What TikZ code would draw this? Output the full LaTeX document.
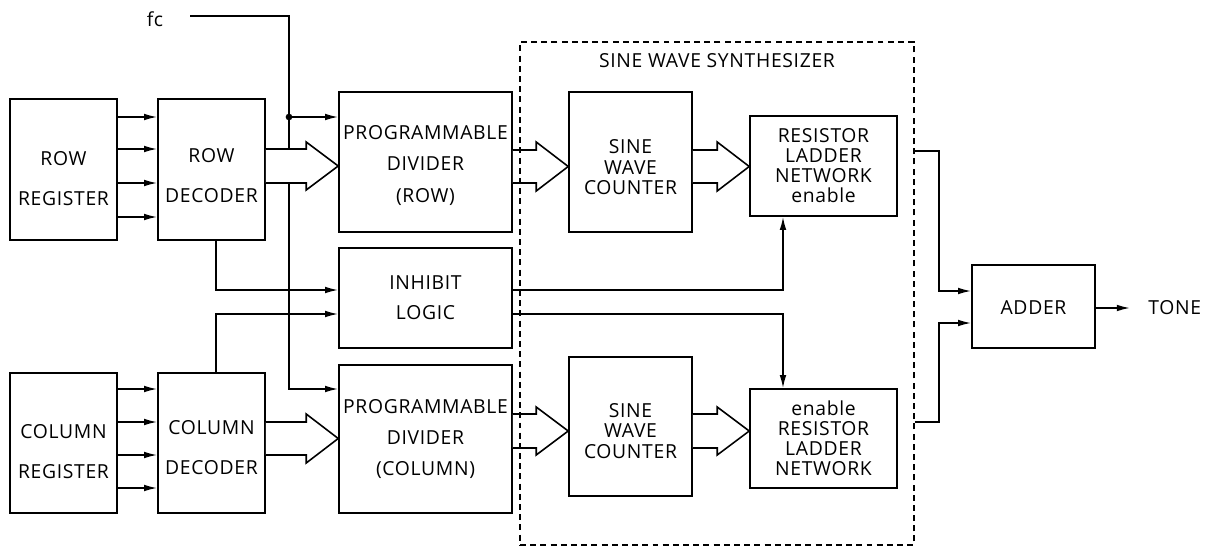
\documentclass[tikz,border=0pt]{standalone}
\usepackage{fontspec}
\setmainfont{Open Sans}[LetterSpace=3.5]
\usetikzlibrary{arrows.meta,calc}
\tikzset{
  box/.style={draw, line width=0.9pt, inner sep=0pt},
  lbl/.style={align=center, font=\fontsize{11}{#1}\selectfont, inner sep=0pt},
  conn/.style={line width=0.9pt},
  arr/.style={conn, -{Latex[length=7.5pt,width=3.8pt]}},
  synbox/.style={draw, line width=0.9pt, dash pattern=on 3.4pt off 2.4pt, inner sep=0pt},
}
% hollow bus arrow: #1 source node, #2 target node, #3 centre y, #4 half shaft, #5 half head
\newcommand\fatarrow[5]{%
  \coordinate (fa1) at (#1.east |- 0,#3);
  \coordinate (fa2) at (#2.west |- 0,#3);
  \path[fill=white] ($(fa1)+(0,-#4)$) -- ($(fa2)+(-32,-#4)$) -- ($(fa2)+(-32,-#5)$) -- (fa2)
     -- ($(fa2)+(-32,#5)$) -- ($(fa2)+(-32,#4)$) -- ($(fa1)+(0,#4)$) -- cycle;
  \draw[line width=0.9pt, line join=miter] ($(fa1)+(0,-#4)$) -- ($(fa2)+(-32,-#4)$) -- ($(fa2)+(-32,-#5)$) -- (fa2)
     -- ($(fa2)+(-32,#5)$) -- ($(fa2)+(-32,#4)$) -- ($(fa1)+(0,#4)$);
}
\begin{document}
\begin{tikzpicture}[x=0.02cm, y=-0.02cm]
\useasboundingbox (0,0) rectangle (1215,548);

% blocks
\node[box, minimum width=2.14cm, minimum height=2.82cm,
  label={[lbl=22.7, yshift=-0.19cm]center:ROW\\REGISTER}] (rreg) at (63.5,169.5) {};
\node[box, minimum width=2.14cm, minimum height=2.82cm,
  label={[lbl=22.7, yshift=-0.13cm]center:ROW\\DECODER}] (rdec) at (211.5,169.5) {};
\node[box, minimum width=2.14cm, minimum height=2.80cm,
  label={[lbl=22.7, yshift=-0.18cm]center:COLUMN\\REGISTER}] (creg) at (63.5,443) {};
\node[box, minimum width=2.14cm, minimum height=2.80cm,
  label={[lbl=22.7, yshift=-0.10cm]center:COLUMN\\DECODER}] (cdec) at (211.5,443) {};
\node[box, minimum width=3.46cm, minimum height=2.80cm,
  label={[lbl=17.9, yshift=-0.07cm]center:PROGRAMMABLE\\DIVIDER\\(ROW)}] (pdr) at (425.5,162) {};
\node[box, minimum width=3.46cm, minimum height=2.00cm,
  label={[lbl=17.1]center:INHIBIT\\LOGIC}] (inh) at (425.5,298) {};
\node[box, minimum width=3.46cm, minimum height=2.96cm,
  label={[lbl=17.6]center:PROGRAMMABLE\\DIVIDER\\(COLUMN)}] (pdc) at (425.5,439) {};
\node[box, minimum width=2.46cm, minimum height=2.80cm,
  label={[lbl=11.7, yshift=-0.11cm]center:SINE\\WAVE\\COUNTER}] (swc1) at (630.5,162) {};
\node[box, minimum width=2.46cm, minimum height=2.78cm,
  label={[lbl=11.7, yshift=-0.09cm]center:SINE\\WAVE\\COUNTER}] (swc2) at (630.5,426.5) {};
\node[box, minimum width=2.94cm, minimum height=2.00cm,
  label={[lbl=11.4]center:RESISTOR\\LADDER\\NETWORK\\enable}] (rln1) at (823.5,166) {};
\node[box, minimum width=2.94cm, minimum height=1.98cm,
  label={[lbl=11.4]center:enable\\RESISTOR\\LADDER\\NETWORK}] (rln2) at (823.5,438.5) {};
\node[box, minimum width=2.46cm, minimum height=1.66cm,
  label={[lbl=13, yshift=-0.03cm]center:ADDER}] (adder) at (1033.5,306.5) {};
\node[lbl=13, anchor=west] (tone) at (1148,308) {TONE};
\node[lbl=13] (fc) at (155,19) {fc};

% clock line
\coordinate (fcs) at (190,16);
\coordinate (tap) at (289,117);
\draw[conn] (fcs) -| (tap);
\draw[arr] (tap) |- (pdc.west |- 0,389);
\draw[arr] (tap) -- (pdr.west |- tap);
\fill (tap) circle (1.9pt);

% register -> decoder lines
\foreach \yy in {117,149,183,217} { \draw[arr] (rreg.east |- 0,\yy) -- (rdec.west |- 0,\yy); }
\foreach \yy in {389,422,455,488} { \draw[arr] (creg.east |- 0,\yy) -- (cdec.west |- 0,\yy); }

% decoders -> inhibit logic
\draw[arr] ($(rdec.south)+(4.5,0)$) |- (inh.west |- 0,290);
\draw[arr] ($(cdec.north)+(4.5,0)$) |- (inh.west |- 0,314);

% inhibit -> enables
\draw[arr] (inh.east |- 0,290) -| ($(rln1.south)+(-40.5,0)$);
\draw[arr] (inh.east |- 0,314) -| ($(rln2.north)+(-40.5,0)$);

% bus arrows
\fatarrow{rdec}{pdr}{166}{17}{24}
\fatarrow{cdec}{pdc}{438.5}{16.5}{24.5}
\fatarrow{pdr}{swc1}{166.5}{16.5}{24.5}
\fatarrow{swc1}{rln1}{166.5}{16.5}{24.5}
\fatarrow{pdc}{swc2}{431}{17}{24}
\fatarrow{swc2}{rln2}{431}{17}{24}

% synthesizer outline
\node[synbox, minimum width=7.88cm, minimum height=10.06cm] (syn) at (717,293.5) {};
\node[lbl=13] (title) at (717,61) {SINE WAVE SYNTHESIZER};

% outputs -> adder
\coordinate (busR) at (939,0);
\draw[arr] (syn.east |- 0,151) -- (busR |- 0,151) |- (adder.west |- 0,291);
\draw[arr] (syn.east |- 0,422) -- (busR |- 0,422) |- (adder.west |- 0,323);
\draw[arr] (adder.east |- tone.west) -- ($(tone.west)+(-18,0)$);
\end{tikzpicture}
\end{document}
